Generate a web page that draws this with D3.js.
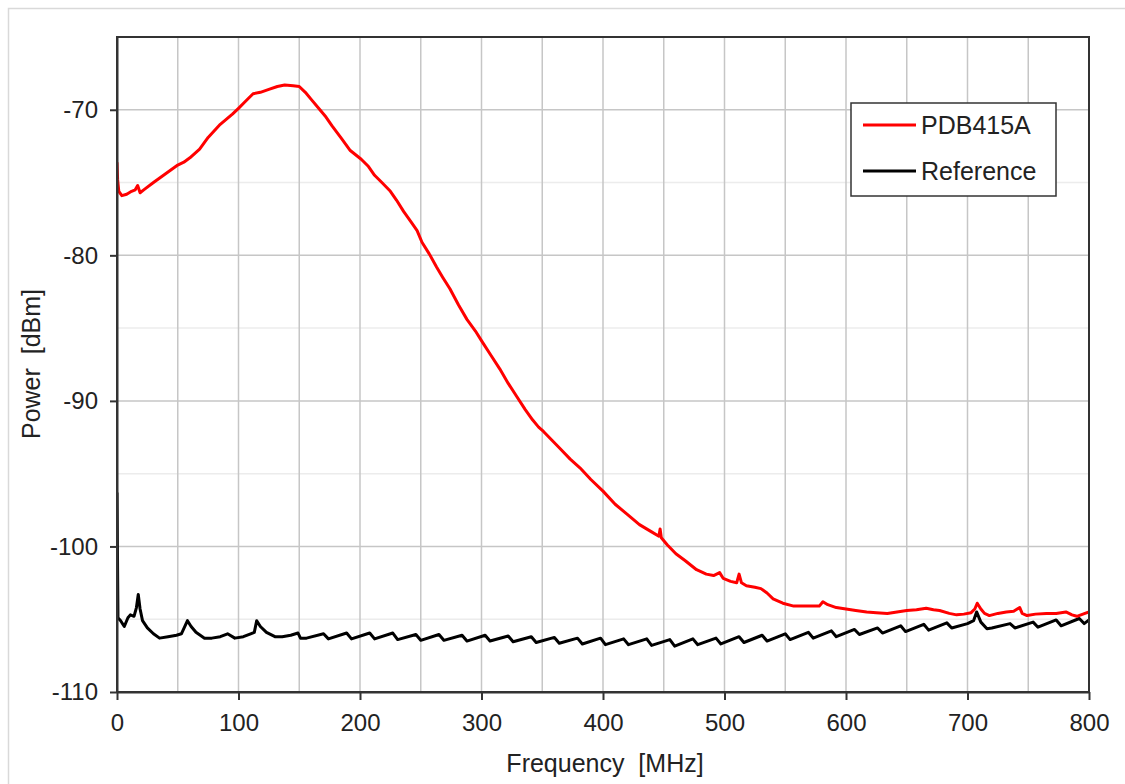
<!DOCTYPE html>
<html>
<head>
<meta charset="utf-8">
<script src="https://cdn.jsdelivr.net/npm/d3@7"></script>
<style>
  html, body { margin: 0; padding: 0; background: #fff; }
  svg { display: block; }
  text { font-family: "Liberation Sans", Arial, sans-serif; fill: #222; }
</style>
</head>
<body>
<svg id="chart" width="1125" height="784"></svg>
<script>
// ---- Data ----
const xTicks = [0, 100, 200, 300, 400, 500, 600, 700, 800];
const xGrid = [50, 100, 150, 200, 250, 300, 350, 400, 450, 500, 550, 600, 650, 700, 750];
const yTicks = [-110, -100, -90, -80, -70];
const yMinorGrid = [-105, -95, -85, -75];
const xTitle = "Frequency  [MHz]";
const yTitle = "Power  [dBm]";
const seriesNames = ["PDB415A", "Reference"];

const pdbFreq = [0,0.5,1.5,4,8,12,15,17,19,22,30,40,50,55,60,68,75,85,95,100,106,112,118,125,132,138,145,150,155,160,167,172,177,185,192,201,207,212,218,225,230,236,242,247,251,257,263,268,274,281,288,295,301,308,315,322,329,336,342,347,351,358,365,373,381,390,400,410,420,430,440,446,447,448,453,460,468,477,485,491,496,499,505,510,512,514,518,525,530,535,540,548,557,565,572,578,581,585,592,600,608,617,625,634,642,650,658,666,672,677,685,691,697,703,706,708,711,714,718,725,732,738,743,745,749,756,765,773,781,786,790,795,800];
const pdbPower = [-73.6,-74.8,-75.6,-75.9,-75.8,-75.6,-75.5,-75.2,-75.7,-75.5,-75.0,-74.4,-73.8,-73.6,-73.3,-72.7,-71.9,-71.0,-70.3,-69.9,-69.4,-68.9,-68.8,-68.6,-68.4,-68.3,-68.35,-68.4,-68.8,-69.3,-70.0,-70.5,-71.1,-72.0,-72.8,-73.4,-73.9,-74.5,-75.0,-75.6,-76.2,-77.0,-77.7,-78.3,-79.1,-79.9,-80.8,-81.5,-82.3,-83.4,-84.4,-85.2,-86.0,-86.9,-87.8,-88.8,-89.7,-90.6,-91.3,-91.8,-92.1,-92.7,-93.3,-94.0,-94.6,-95.4,-96.2,-97.1,-97.8,-98.5,-99.0,-99.3,-98.8,-99.4,-99.9,-100.5,-101.0,-101.6,-101.9,-102.0,-101.8,-102.2,-102.4,-102.5,-101.9,-102.5,-102.7,-102.8,-102.9,-103.2,-103.6,-103.9,-104.1,-104.1,-104.1,-104.1,-103.8,-104.0,-104.2,-104.3,-104.4,-104.5,-104.55,-104.6,-104.5,-104.4,-104.35,-104.25,-104.35,-104.4,-104.6,-104.7,-104.65,-104.55,-104.3,-103.9,-104.3,-104.6,-104.75,-104.6,-104.5,-104.45,-104.2,-104.6,-104.75,-104.65,-104.6,-104.6,-104.5,-104.7,-104.8,-104.65,-104.5];

const refFreq = [0,0.8,3,6,9,11,14,16,17.5,19,21,25,30,35,42,49,53,58,61,65,72,78,85,91,97,104,110,113,115,118,123,130,136,143,149,151,156,170,174,189,193,208,212,227,231,246,250,265,269,284,288,303,307,322,326,341,345,360,364,379,383,398,402,417,421,436,440,455,459,474,478,493,497,512,516,531,535,550,554,569,573,588,592,607,611,626,630,645,649,664,668,683,687,700,705,707.5,711,716,720,735,739,754,758,773,777,792,796,800];
const refPower = [-96.3,-104.9,-105.1,-105.5,-104.9,-104.7,-104.8,-104.2,-103.3,-104.3,-105.1,-105.6,-106.0,-106.3,-106.2,-106.1,-106.0,-105.1,-105.5,-105.9,-106.3,-106.3,-106.2,-106.0,-106.3,-106.2,-106.0,-105.9,-105.1,-105.5,-105.9,-106.2,-106.2,-106.1,-105.95,-106.3,-106.3,-106.0,-106.35,-105.95,-106.35,-105.95,-106.35,-105.95,-106.4,-106.05,-106.45,-106.05,-106.45,-106.1,-106.5,-106.1,-106.5,-106.15,-106.55,-106.2,-106.6,-106.25,-106.65,-106.3,-106.7,-106.3,-106.75,-106.35,-106.75,-106.35,-106.8,-106.4,-106.85,-106.35,-106.75,-106.3,-106.7,-106.2,-106.6,-106.1,-106.5,-106.0,-106.4,-105.9,-106.3,-105.8,-106.2,-105.7,-106.05,-105.6,-105.95,-105.45,-105.85,-105.35,-105.75,-105.25,-105.6,-105.3,-105.1,-104.5,-105.2,-105.65,-105.6,-105.3,-105.6,-105.2,-105.55,-105.05,-105.45,-104.95,-105.3,-105.05];

// ---- Layout ----
const svg = d3.select("#chart");
const pLeft = 117, pRight = 1089, pTop = 37, pBottom = 692;

const x = d3.scaleLinear().domain([0, 800]).range([pLeft, pRight]);
const y = d3.scaleLinear().domain([-110, -65]).range([pBottom, pTop]);

// outer frame
svg.append("rect")
  .attr("x", 8.5).attr("y", 8.5).attr("width", 1130).attr("height", 800)
  .attr("fill", "#fff").attr("stroke", "#d9d9d9").attr("stroke-width", 1.5);

// minor horizontal grid
svg.append("g").selectAll("line").data(yMinorGrid).join("line")
  .attr("x1", pLeft).attr("x2", pRight)
  .attr("y1", d => y(d)).attr("y2", d => y(d))
  .attr("stroke", "#ececec").attr("stroke-width", 1.5);

// major horizontal grid
svg.append("g").selectAll("line").data(yTicks.filter(d => d > -110)).join("line")
  .attr("x1", pLeft).attr("x2", pRight)
  .attr("y1", d => y(d)).attr("y2", d => y(d))
  .attr("stroke", "#c6c6c6").attr("stroke-width", 1.5);

// vertical grid
svg.append("g").selectAll("line").data(xGrid).join("line")
  .attr("y1", pTop).attr("y2", pBottom)
  .attr("x1", d => x(d)).attr("x2", d => x(d))
  .attr("stroke", "#c6c6c6").attr("stroke-width", 1.5);

// series
const line = d3.line().x(d => x(d[0])).y(d => y(d[1]));
const pdb = pdbFreq.map((f, i) => [f, pdbPower[i]]);
const ref = refFreq.map((f, i) => [f, refPower[i]]);

svg.append("clipPath").attr("id", "clip").append("rect")
  .attr("x", pLeft).attr("y", pTop).attr("width", pRight - pLeft).attr("height", pBottom - pTop);

svg.append("path").datum(ref).attr("d", line)
  .attr("fill", "none").attr("stroke", "#000").attr("stroke-width", 3)
  .attr("stroke-linejoin", "round").attr("clip-path", "url(#clip)");
svg.append("path").datum(pdb).attr("d", line)
  .attr("fill", "none").attr("stroke", "#ff0000").attr("stroke-width", 3)
  .attr("stroke-linejoin", "round").attr("clip-path", "url(#clip)");

// plot border
svg.append("rect")
  .attr("x", pLeft).attr("y", pTop).attr("width", pRight - pLeft).attr("height", pBottom - pTop)
  .attr("fill", "none").attr("stroke", "#333").attr("stroke-width", 2);

// axes
const xAxis = d3.axisBottom(x).tickValues(xTicks).tickFormat(d => String(d))
  .tickSizeInner(8).tickSizeOuter(0).tickPadding(14);
const yAxis = d3.axisLeft(y).tickValues(yTicks).tickFormat(d => String(d))
  .tickSizeInner(7).tickSizeOuter(0).tickPadding(12);

const gx = svg.append("g").attr("transform", `translate(0,${pBottom})`).call(xAxis);
const gy = svg.append("g").attr("transform", `translate(${pLeft},0)`).call(yAxis);
[gx, gy].forEach(g => {
  g.select(".domain").attr("stroke", "#333").attr("stroke-width", 2);
  g.selectAll(".tick line").attr("stroke", "#333").attr("stroke-width", 2);
  g.selectAll(".tick text").style("font-family", '"Liberation Sans", Arial, sans-serif')
    .style("font-size", "24px").attr("fill", "#222");
});
gx.selectAll(".tick text").attr("dy", "0.72em");

// axis titles
svg.append("text").attr("x", (pLeft + pRight) / 2 + 2).attr("y", 772)
  .attr("text-anchor", "middle").style("font-size", "25px").style("white-space", "pre")
  .text(xTitle);
svg.append("text").attr("transform", "translate(40,364) rotate(-90)")
  .attr("text-anchor", "middle").style("font-size", "25px").style("white-space", "pre")
  .text(yTitle);

// legend
const lg = svg.append("g");
lg.append("rect").attr("x", 851).attr("y", 103).attr("width", 205).attr("height", 93)
  .attr("fill", "#fff").attr("stroke", "#333").attr("stroke-width", 1.5);
const legendColors = ["#ff0000", "#000"];
const legendY = [125, 171];
seriesNames.forEach((name, i) => {
  lg.append("line").attr("x1", 863).attr("x2", 916)
    .attr("y1", legendY[i]).attr("y2", legendY[i])
    .attr("stroke", legendColors[i]).attr("stroke-width", 3);
  lg.append("text").attr("x", 921).attr("y", legendY[i]).attr("dy", "0.36em")
    .style("font-size", "25px").text(name);
});
</script>
</body>
</html>
